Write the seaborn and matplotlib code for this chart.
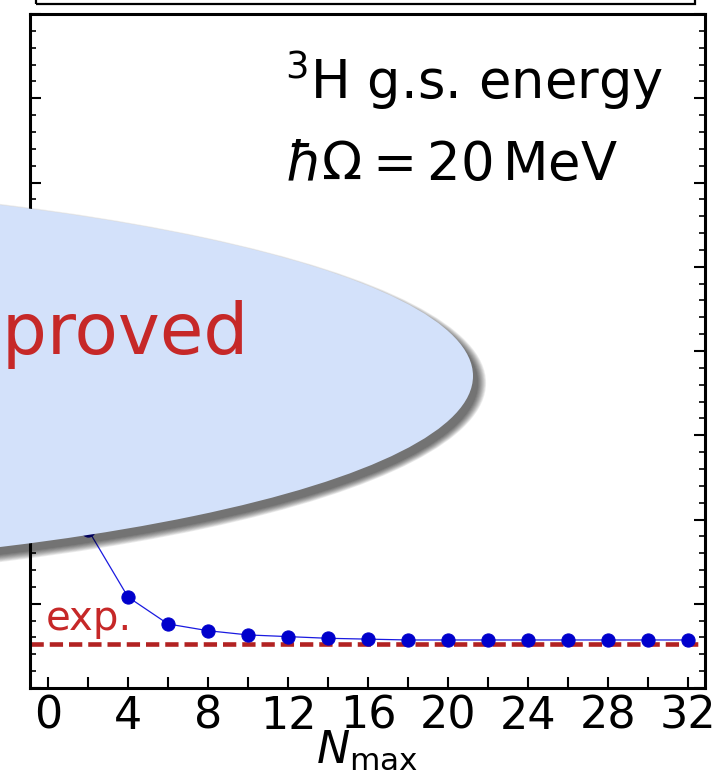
import numpy as np
import matplotlib
matplotlib.use("Agg")
import matplotlib.pyplot as plt
from matplotlib.patches import Ellipse, Rectangle
from matplotlib.ticker import MultipleLocator
import seaborn as sns

# N_max grid and 3H ground-state energies (MeV)
nmax = [0, 2, 4, 6, 8, 10, 12, 14, 16, 18, 20, 22, 24, 26, 28, 30, 32]
energy = [-4.0, -7.12, -7.92, -8.24, -8.32, -8.37, -8.39, -8.41, -8.42,
          -8.43, -8.43, -8.43, -8.43, -8.43, -8.43, -8.43, -8.43]
e_exp = -8.48

x_ticks = [0, 4, 8, 12, 16, 20, 24, 28, 32]
title_lines = [r"$^{3}$H g.s. energy", r"$\hbar\Omega = 20\,\mathrm{MeV}$"]
bubble_text = "Improved"

W, H = 717, 772
sns.set_style("ticks")
plt.rcParams["font.family"] = ["DejaVu Sans"]
plt.rcParams["mathtext.fontset"] = "dejavusans"
plt.rcParams["text.color"] = "black"
plt.rcParams["axes.labelcolor"] = "black"
plt.rcParams["xtick.color"] = "black"
plt.rcParams["ytick.color"] = "black"

fig = plt.figure(figsize=(W / 100, H / 100), dpi=100)
ax = fig.add_axes([30 / W, 1 - 688 / H, 675 / W, 674 / H])

sns.lineplot(x=nmax, y=energy, ax=ax, color="#1a1ae0", linewidth=0.9,
             marker="o", markersize=9.5, markerfacecolor="#0000cc",
             markeredgecolor="#0000cc", zorder=3)
ax.axhline(e_exp, color="#b22222", linewidth=3.3, dashes=(2.9, 1.3), zorder=2)

ax.set_xlim(-0.9, 32.85)
ax.set_ylim(-9, -1)
ax.set_xticks(x_ticks)
ax.xaxis.set_minor_locator(MultipleLocator(2))
ax.yaxis.set_major_locator(MultipleLocator(1))
ax.yaxis.set_minor_locator(MultipleLocator(0.2))
ax.set_yticklabels([])
ax.tick_params(axis="x", which="both", direction="in", length=8, width=1.5,
               labelsize=32, pad=5, top=False, colors="black")
ax.tick_params(axis="y", which="major", direction="in", length=8, width=1.5,
               left=True, right=True, colors="black")
ax.tick_params(axis="y", which="minor", direction="in", length=4, width=1.2,
               left=True, right=True, colors="black")
for sp in ax.spines.values():
    sp.set_linewidth(2.2)
    sp.set_color("black")
ax.set_xlabel(r"$N_{\mathrm{max}}$", fontsize=32, labelpad=-7, color="black")
ax.set_ylabel("")

ax.text(0.378, 0.874, title_lines[0], transform=ax.transAxes, fontsize=38,
        va="baseline", ha="left", color="black")
ax.text(0.378, 0.754, title_lines[1], transform=ax.transAxes, fontsize=38,
        va="baseline", ha="left", color="black")
ax.text(-0.1, -8.31, "exp.", color="#c62828", fontsize=29,
        va="baseline", ha="left")

# upper panel edge peeking in at the top
fig.patches.append(Rectangle((36 / W, 1 - 4 / H), 659 / W, 30 / H,
                             transform=fig.transFigure, fill=False,
                             edgecolor="black", linewidth=1.6, zorder=1))

# callout bubble with a soft drop shadow (stacked translucent ellipses)
cx, cy, a, b = -480, 376, 953, 198
for i in range(10):
    s = i * 0.9
    fig.patches.append(Ellipse(((cx + 5) / W, 1 - (cy + 7) / H),
                               (2 * a + 2 * s) / W, (2 * b + 2 * s) / H,
                               transform=fig.transFigure, facecolor="black",
                               edgecolor="none", alpha=0.075, zorder=5))
fig.patches.append(Ellipse((cx / W, 1 - cy / H), 2 * a / W, 2 * b / H,
                           transform=fig.transFigure, facecolor="#d3e1fa",
                           edgecolor="none", zorder=6))
fig.text(248 / W, 1 - 354 / H, bubble_text, color="#c62828", fontsize=51,
         ha="right", va="baseline", zorder=7)

fig.savefig("out.png", dpi=100)
